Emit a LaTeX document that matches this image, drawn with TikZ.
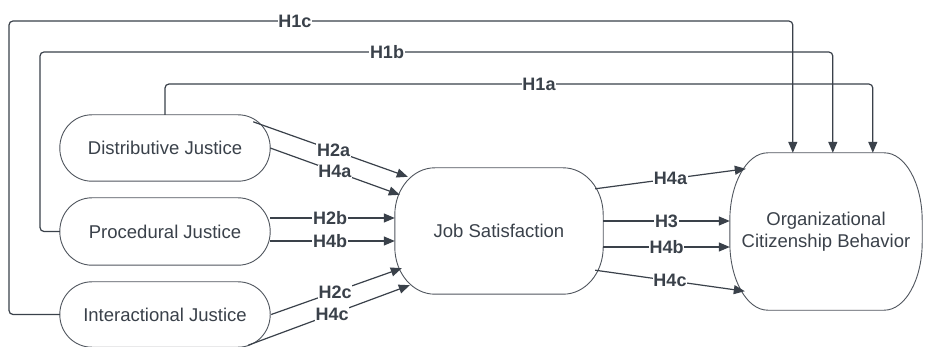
\documentclass[tikz,border=0pt]{standalone}
\usepackage{fontspec}
\setmainfont{Liberation Sans}
\usetikzlibrary{arrows.meta,calc}
\definecolor{ink}{HTML}{3A414A}
\definecolor{txt}{HTML}{3A414A}
\definecolor{outline}{HTML}{50565E}
\tikzset{
  shapebox/.style={inner sep=0pt, align=center, text=txt, font=\fontsize{18.5}{22}\selectfont},
  shapeline/.style={draw=outline, line width=0.9pt},
  lab/.style={fill=white, inner sep=0.6pt, text=txt, font=\bfseries\fontsize{18}{19}\selectfont},
  conn/.style={draw=ink, line width=1.2pt, -{Triangle[length=11pt,width=9pt]}},
  route/.style={conn, rounded corners=4pt}
}
\newcommand\termshape[3]{%
  \draw[shapeline] ([xshift=#2]#1.north west) -- ([xshift=-#2]#1.north east)
    arc[start angle=90,end angle=0,x radius=#2,y radius=#3]
    -- ([yshift=#3]#1.south east)
    arc[start angle=0,end angle=-90,x radius=#2,y radius=#3]
    -- ([xshift=#2]#1.south west)
    arc[start angle=270,end angle=180,x radius=#2,y radius=#3]
    -- ([yshift=-#3]#1.north west)
    arc[start angle=180,end angle=90,x radius=#2,y radius=#3] -- cycle;}
\begin{document}
\begin{tikzpicture}[x=1pt,y=1pt]
\fill[white] (0,0) rectangle (926,-347);
\useasboundingbox (0,0) rectangle (926,-347);

% nodes
\node[shapebox, minimum width=210pt, minimum height=66pt] (dj) at (165,-148) {Distributive Justice};
\node[shapebox, minimum width=210pt, minimum height=67pt] (pj) at (165,-231.5) {Procedural Justice};
\node[shapebox, minimum width=210pt, minimum height=65pt] (ij) at (165,-314.5) {Interactional Justice};
\node[shapebox, minimum width=208pt, minimum height=126pt] (js) at (499,-231) {Job Satisfaction};
\node[shapebox, minimum width=192pt, minimum height=157pt] (ocb) at (826,-231.5) {Organizational\\Citizenship Behavior};

\termshape{dj}{32pt}{33pt}
\termshape{pj}{32pt}{33.5pt}
\termshape{ij}{32pt}{32.5pt}
\termshape{js}{40pt}{47pt}
\termshape{ocb}{38pt}{68pt}

% H1 routes
\draw[route] (ij.west) -| (9,-21) -| ([xshift=63pt]ocb.north west);
\draw[route] (pj.west) -| (40,-52) -| ([xshift=103pt]ocb.north west);
\draw[route] (dj.north) |- (520,-84) -| ([xshift=143pt]ocb.north west);
\node[lab] (l1c) at (295,-21) {H1c};
\node[lab] (l1b) at (387,-52) {H1b};
\node[lab] (l1a) at (539,-84) {H1a};

% justice -> job satisfaction
\draw[conn] ([shift={(-17,-7)}]dj.north east) -- node[lab,pos=0.52] (l2a) {H2a} ([shift={(13,-9)}]js.north west);
\draw[conn] (dj.east) -- node[lab,pos=0.5] (l4a) {H4a} ([shift={(5,-27)}]js.north west);
\draw[conn] ([yshift=13.5]pj.east) -- node[lab,pos=0.48] (l2b) {H2b} ([yshift=13]js.west);
\draw[conn] ([yshift=-9.5]pj.east) -- node[lab,pos=0.48] (l4b) {H4b} ([yshift=-10]js.west);
\draw[conn] ([xshift=1pt]ij.east) -- node[lab,pos=0.49] (l2c) {H2c} ([shift={(7,26)}]js.south west);
\draw[conn] ([shift={(-22,2)}]ij.south east) -- node[lab,pos=0.52] (l4c) {H4c} ([shift={(15,9)}]js.south west);

% job satisfaction -> OCB
\draw[conn] ([shift={(-8,-21)}]js.north east) -- node[lab,pos=0.5] (m4a) {H4a} ([shift={(16,-16)}]ocb.north west);
\draw[conn] ([yshift=10]js.east) -- node[lab,pos=0.5] (m3) {H3} ([yshift=10.5]ocb.west);
\draw[conn] ([yshift=-16]js.east) -- node[lab,pos=0.5] (m4b) {H4b} ([yshift=-15.5]ocb.west);
\draw[conn] ([shift={(-8,24)}]js.south east) -- node[lab,pos=0.5] (m4c) {H4c} ([shift={(15,19)}]ocb.south west);
\end{tikzpicture}
\end{document}
